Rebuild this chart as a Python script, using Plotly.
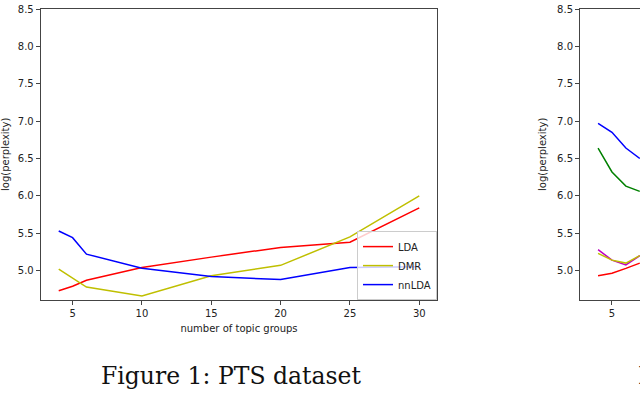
import plotly.graph_objects as go

W, H = 640, 395

# ---- Figure 1 (PTS dataset) data ----
topic_groups = [4, 5, 6, 10, 15, 20, 25, 30]
lda = [4.73, 4.79, 4.87, 5.04, 5.18, 5.31, 5.38, 5.84]
dmr = [5.02, 4.90, 4.78, 4.66, 4.93, 5.07, 5.45, 6.00]
nnlda = [5.53, 5.44, 5.22, 5.03, 4.92, 4.88, 5.04, 5.05]

# ---- Figure 2 (partially visible) data ----
topic_groups2 = [4, 5, 6, 7]
f2_blue = [6.97, 6.85, 6.64, 6.50]
f2_green = [6.64, 6.32, 6.13, 6.06]
f2_magenta = [5.28, 5.14, 5.075, 5.20]
f2_yellow = [5.23, 5.14, 5.10, 5.20]
f2_red = [4.93, 4.965, 5.03, 5.10]

x_ticks = [5, 10, 15, 20, 25, 30]
y_ticks = [5.0, 5.5, 6.0, 6.5, 7.0, 7.5, 8.0, 8.5]
y_ticktext = [f"{v:.1f}" for v in y_ticks]

RED = "#ff0000"
YEL = "#bfbf00"
BLU = "#0000ff"
GRN = "#008000"
MAG = "#bf00bf"

fig = go.Figure()
lw = 1.5
fig.add_trace(go.Scatter(x=topic_groups, y=lda, mode="lines", name="LDA",
                         line=dict(color=RED, width=lw)))
fig.add_trace(go.Scatter(x=topic_groups, y=dmr, mode="lines", name="DMR",
                         line=dict(color=YEL, width=lw)))
fig.add_trace(go.Scatter(x=topic_groups, y=nnlda, mode="lines", name="nnLDA",
                         line=dict(color=BLU, width=lw)))

for ys, c in [(f2_blue, BLU), (f2_green, GRN), (f2_magenta, MAG),
              (f2_yellow, YEL), (f2_red, RED)]:
    fig.add_trace(go.Scatter(x=topic_groups2, y=ys, mode="lines", showlegend=False,
                             line=dict(color=c, width=lw), xaxis="x2", yaxis="y2"))

axcol = "#444444"
tickfont = dict(family="DejaVu Sans", size=10, color="#222222")
y_dom = [1 - 298.5 / H, 1 - 4 / H]

common_x = dict(tickvals=x_ticks, ticks="outside", ticklen=4, tickcolor=axcol,
                showline=True, linecolor=axcol, linewidth=1, showgrid=False,
                zeroline=False, tickfont=tickfont)
common_y = dict(tickvals=y_ticks, ticktext=y_ticktext, ticks="outside", ticklen=4,
                tickcolor=axcol, showline=True, linecolor=axcol, linewidth=1,
                showgrid=False, zeroline=False, tickfont=tickfont, range=[4.61, 8.501],
                domain=y_dom, ticklabeloverflow="allow")

fig.update_layout(
    width=W, height=H,
    margin=dict(l=0, r=0, t=0, b=0),
    paper_bgcolor="white", plot_bgcolor="white",
    font=dict(family="DejaVu Sans", size=10, color="#222222"),
    xaxis=dict(domain=[40.7 / W, 437.3 / W], range=[2.7, 31.3], mirror=True,
               title=dict(text="number of topic groups", standoff=7,
                          font=dict(family="DejaVu Sans", size=10, color="#222222")),
               **common_x),
    yaxis=dict(anchor="x", mirror=True,
               title=dict(text="log(perplexity)", standoff=6,
                          font=dict(family="DejaVu Sans", size=10, color="#222222")),
               **common_y),
    xaxis2=dict(domain=[580 / W, 1.0], range=[2.7, 2.7 + 60 / 13.9], anchor="y2",
                mirror=True, **common_x),
    yaxis2=dict(anchor="x2",
                title=dict(text="log(perplexity)", standoff=8,
                           font=dict(family="DejaVu Sans", size=10, color="#222222")),
                **common_y),
    legend=dict(x=357 / W, y=1 - 229 / H, xanchor="left", yanchor="top",
                bgcolor="rgba(255,255,255,0.8)", bordercolor="#cccccc", borderwidth=1,
                font=dict(family="DejaVu Sans", size=10, color="#222222"),
                itemwidth=30, tracegroupgap=0),
    showlegend=True,
)

fig.add_annotation(text="Figure 1: PTS dataset", xref="paper", yref="paper",
                   x=231 / W, y=1 - 376 / H, xanchor="center", yanchor="middle",
                   showarrow=False,
                   font=dict(family="DejaVu Serif", size=23.5, color="#111111"))
fig.add_annotation(text="Figure 2", xref="paper", yref="paper",
                   x=636 / W, y=1 - 376 / H, xanchor="left", yanchor="middle",
                   showarrow=False,
                   font=dict(family="DejaVu Serif", size=23.5, color="#111111"))

fig.write_html("out.html",
               config={"displayModeBar": False},
               post_script="document.body.style.margin='0';document.body.style.padding='0';")
